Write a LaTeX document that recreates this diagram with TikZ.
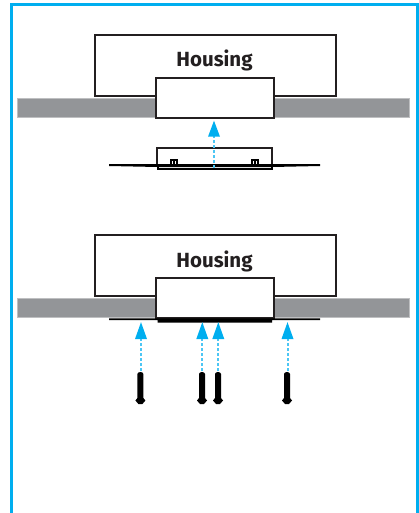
\documentclass[tikz,border=0pt]{standalone}
\usepackage{fontspec}
\setmainfont{Fira Sans}
\definecolor{cy}{HTML}{00AEEF}
\definecolor{gr}{HTML}{939598}
\definecolor{ln}{HTML}{231F20}
\begin{document}
\begin{tikzpicture}[x=1pt,y=-1pt,
 boxed/.style={draw=ln,line width=2pt,fill=white},
 wall/.style={fill=gr,draw=gr!60,line width=.6pt},
 lbl/.style={font=\bfseries\fontsize{20.5}{24}\selectfont,text=ln,inner sep=0pt,anchor=base},
 dashline/.style={draw=cy!70,line width=2pt,dash pattern=on 3pt off 2pt},
 tri/.style={fill=cy},
 screw/.style={fill=black}]
\useasboundingbox (0,0) rectangle (419,513);
\draw[cy,line width=2.8pt] (11.3,513) -- (11.3,4.3) -- (417.8,4.3) -- (417.8,513);
% top group
\draw[boxed] (95,35) rectangle (335.5,96.2);
\fill[wall] (17.5,98.5) rectangle (409,117.5);
\draw[boxed] (156,78) rectangle (274,118);
\node[lbl] (h1) at (214.5,67) {Housing};
\coordinate (a0) at (214,168);
\coordinate (a1) at (214,136);
\draw[line width=2pt,ln] (157,165) -- (157,148) -- (272,148) -- (272,165);
\draw[line width=2pt,black] (157.5,165) -- (157.5,169) -- (271.5,169) -- (271.5,165);
\fill[black] (109,164) -- (320,164) -- (320,166) -- (272,167) -- (157.5,167) -- (109,166) -- cycle;
\foreach \x in {174,255}{
 \draw[black,line width=1.6pt] (\x-3,165) -- (\x-3,160) -- (\x+3,160) -- (\x+3,165);
 \draw[black,line width=1.6pt] (\x,160) -- (\x,165);
}
\draw[dashline] (a0) -- (a1);
\fill[tri] (214,120.7) -- (220,136.7) -- (208,136.7) -- cycle;
% bottom group
\draw[boxed] (95,235) rectangle (335.5,296.2);
\fill[wall] (17.5,298.5) rectangle (409,317.5);
\draw[boxed] (156,278) rectangle (274,318);
\node[lbl] (h2) at (214.5,267) {Housing};
\fill[black] (109,318.4) -- (320,318.4) -- (320,320) -- (272,320.2) -- (272,322.6) -- (157.5,322.6) -- (157.5,320.2) -- (109,320) -- cycle;
\foreach \x/\s in {141/140.4,202.3/202,218.3/218,287.5/287}{
 \draw[dashline] (\x,371) -- (\x,339);
 \fill[tri] (\x,322.2) -- (\x+6,339) -- (\x-6,339) -- cycle;
 \fill[screw] (\s-3,374) arc[start angle=180,end angle=360,x radius=3,y radius=2] -- (\s+3,398) -- (\s+5,400.5) -- (\s+2,404) -- (\s-2,404) -- (\s-5,400.5) -- (\s-3,398) -- cycle;
}
\end{tikzpicture}
\end{document}
